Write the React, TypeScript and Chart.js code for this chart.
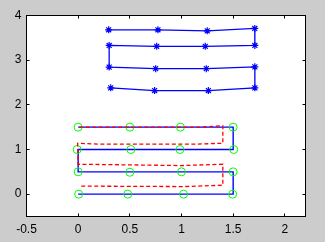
import React, { useEffect, useRef } from "react";
import { Chart, registerables } from "chart.js";

Chart.register(...registerables);

// Axis limits and tick labels
const xLimits = [-0.5, 2.2];
const yLimits = [-0.5, 4];
const xTickValues = [-0.5, 0, 0.5, 1, 1.5, 2];
const yTickValues = [0, 1, 2, 3, 4];

// Upper grid: blue line with star markers (snake path)
const starX = [0.295, 0.772, 1.249, 1.709, 1.71, 1.23, 0.76, 0.3, 0.3, 0.75, 1.24, 1.71, 1.71, 1.26, 0.74, 0.315];
const starY = [3.68, 3.68, 3.656, 3.71, 3.33, 3.31, 3.31, 3.33, 2.845, 2.81, 2.81, 2.85, 2.38, 2.32, 2.32, 2.38];

// Lower grid: ideal blue snake path
const pathX = [0, 1.5, 1.5, 0, 0, 1.5, 1.5, 0];
const pathY = [0, 0, 0.5, 0.5, 1, 1, 1.5, 1.5];

// Lower grid: green circle markers
const circX = [0.005, 0.48, 1.02, 1.495, 1.5, 1.0, 0.5, 0, -0.01, 0.51, 0.985, 1.505, 1.5, 0.99, 0.5, 0];
const circY = [0, 0, 0, 0, 0.5, 0.5, 0.49, 0.5, 1.0, 1.0, 1.0, 1.0, 1.5, 1.5, 1.5, 1.5];

// Lower grid: red dashed trajectory
const redX = [0.03, 1.02, 1.4, 1.4, 1.0, 0.34, 0.0, -0.005, 0.21, 1.15, 1.4, 1.4, 1.17, -0.005];
const redY = [0.18, 0.17, 0.2, 0.67, 0.64, 0.66, 0.67, 1.14, 1.12, 1.12, 1.14, 1.53, 1.5, 1.5];

const zip = (xs: number[], ys: number[]) => xs.map((x, i) => ({ x, y: ys[i] }));

const axesPlugin = {
  id: "matlabAxes",
  beforeDraw(chart: any) {
    const { ctx, chartArea: a } = chart;
    ctx.save();
    ctx.fillStyle = "#ffffff";
    ctx.fillRect(a.left, a.top, a.right - a.left, a.bottom - a.top);
    ctx.restore();
  },
  afterDraw(chart: any) {
    const { ctx, chartArea: a, scales } = chart;
    ctx.save();
    ctx.strokeStyle = "#000000";
    ctx.lineWidth = 1;
    ctx.strokeRect(a.left, a.top, a.right - a.left, a.bottom - a.top);
    const tl = 3;
    ctx.beginPath();
    scales.x.ticks.forEach((t: any) => {
      const px = Math.round(scales.x.getPixelForValue(t.value) - 0.5) + 0.5;
      ctx.moveTo(px, a.bottom);
      ctx.lineTo(px, a.bottom - tl);
      ctx.moveTo(px, a.top);
      ctx.lineTo(px, a.top + tl);
    });
    scales.y.ticks.forEach((t: any) => {
      const py = Math.round(scales.y.getPixelForValue(t.value) - 0.5) + 0.5;
      ctx.moveTo(a.left, py);
      ctx.lineTo(a.left + tl, py);
      ctx.moveTo(a.right, py);
      ctx.lineTo(a.right - tl, py);
    });
    ctx.stroke();
    ctx.restore();
  },
};

export default function App() {
  const ref = useRef<HTMLCanvasElement | null>(null);

  useEffect(() => {
    if (!ref.current) return;
    const font = { family: "'Liberation Sans', Arial, sans-serif", size: 12 };
    const chart = new Chart(ref.current, {
      type: "scatter",
      data: {
        datasets: [
          {
            data: zip(redX, redY),
            showLine: true,
            borderColor: "#ff0000",
            borderWidth: 1.3,
            borderDash: [4, 2.5],
            pointRadius: 0,
            order: 0,
          },
          {
            data: zip(circX, circY),
            showLine: false,
            pointStyle: "circle",
            pointRadius: 4,
            borderColor: "#00ff00",
            backgroundColor: "rgba(0,0,0,0)",
            borderWidth: 1,
            order: 1,
          },
          {
            data: zip(pathX, pathY),
            showLine: true,
            borderColor: "#0000ff",
            borderWidth: 1.4,
            pointRadius: 0,
            order: 2,
          },
          {
            data: zip(starX, starY),
            showLine: true,
            borderColor: "#0000ff",
            backgroundColor: "#0000ff",
            borderWidth: 1.3,
            pointStyle: "star",
            pointRadius: 3.5,
            pointBorderWidth: 1.2,
            order: 3,
          },
        ],
      },
      options: {
        responsive: false,
        animation: false,
        devicePixelRatio: 1,
        layout: { padding: { left: 0, top: 15.5, right: 19.5, bottom: 0 } },
        plugins: { legend: { display: false }, tooltip: { enabled: false } },
        scales: {
          x: {
            type: "linear",
            min: xLimits[0],
            max: xLimits[1],
            grid: { display: false, drawTicks: false },
            border: { display: false },
            afterBuildTicks: (s: any) => {
              s.ticks = xTickValues.map((v) => ({ value: v }));
            },
            afterFit: (s: any) => {
              s.height = 25.5;
              s.paddingLeft = 0;
              s.paddingRight = 0;
            },
            ticks: {
              color: "#000000",
              font,
              padding: 6,
              maxRotation: 0,
              autoSkip: false,
              callback: (v: any) => String(v),
            },
          },
          y: {
            type: "linear",
            min: yLimits[0],
            max: yLimits[1],
            grid: { display: false, drawTicks: false },
            border: { display: false },
            afterBuildTicks: (s: any) => {
              s.ticks = yTickValues.map((v) => ({ value: v }));
            },
            afterFit: (s: any) => {
              s.width = 26.5;
              s.paddingTop = 0;
              s.paddingBottom = 0;
            },
            ticks: {
              color: "#000000",
              font,
              padding: 5,
              autoSkip: false,
              callback: (v: any) => String(v),
            },
          },
        },
      },
      plugins: [axesPlugin],
    } as any);
    return () => chart.destroy();
  }, []);

  return (
    <div
      style={{
        position: "fixed",
        left: 0,
        top: 0,
        width: 325,
        height: 242,
        background: "#cccccc",
      }}
    >
      <canvas ref={ref} width={325} height={242} style={{ display: "block" }} />
    </div>
  );
}
